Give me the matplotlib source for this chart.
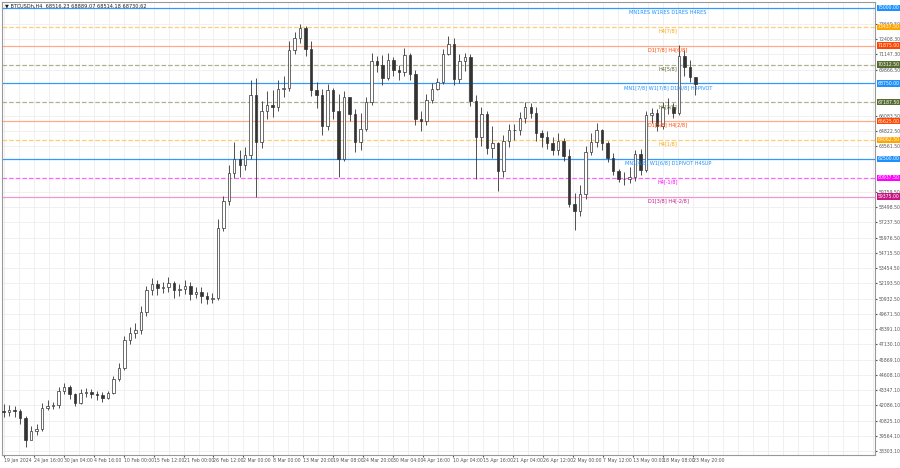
import numpy as np
import matplotlib.pyplot as plt

# daily closes, 19 Jan 2024 .. 24 May 2024
closes = [41500, 41700, 41600, 41000, 39200, 40000, 40100, 41900, 42000, 42100,
          43300, 43600, 43000, 42300, 43100, 43200, 43000, 42900, 42700, 43100,
          44300, 45200, 47500, 48100, 48300, 49800, 51600, 52100, 51800, 51900,
          52200, 51600, 51700, 52000, 51300, 51500, 51100, 50900, 51000, 56800,
          59000, 61300, 62500, 62000, 62800, 67800, 63900, 66500, 67000, 66800,
          68300, 68400, 71500, 72500, 73300, 71600, 68200, 67800, 65200, 68200,
          66500, 62500, 67600, 66200, 63900, 65000, 67200, 70600, 70300, 69200,
          70700, 69900, 69700, 71100, 69500, 65800, 65600, 67400, 68300, 68900,
          71200, 72000, 69100, 70600, 70900, 67300, 64300, 66200, 63400, 63800,
          61500, 64000, 64900, 64900, 65900, 66800, 66300, 64600, 64300, 63800,
          63200, 64000, 62700, 58800, 58200, 59600, 63100, 63900, 64900, 63800,
          62600, 61500, 60800, 60800, 61000, 62900, 61600, 66100, 66300, 65200,
          66800, 66800, 66300, 71000, 70100, 69300, 68730]
highs = [42200, 42100, 42000, 41800, 41200, 40400, 40500, 42300, 42500, 42400,
         43600, 43900, 43800, 43100, 43400, 43500, 43400, 43300, 43200, 43300,
         44500, 45600, 47800, 48600, 48900, 50300, 52000, 52600, 52500, 52300,
         52700, 52400, 52100, 52500, 52300, 51900, 51900, 51500, 51400, 57500,
         59400, 62000, 63900, 63200, 63500, 69000, 69200, 67300, 68100, 68200,
         69000, 69400, 72300, 73000, 73700, 73500, 72300, 68900, 68300, 68700,
         68400, 67900, 68100, 67500, 66600, 66300, 67600, 71300, 71000, 71100,
         71300, 70900, 70300, 71700, 71300, 69900, 66500, 67900, 68800, 69200,
         71600, 72700, 72500, 71200, 71300, 71200, 67800, 66800, 66500, 65200,
         63900, 64500, 65400, 65400, 66400, 67200, 67100, 66800, 64900, 64800,
         64300, 64600, 64200, 63300, 59700, 60300, 63600, 64600, 65500, 65000,
         64000, 63000, 61700, 61400, 61800, 63200, 63300, 66500, 66700, 66600,
         67200, 67500, 67100, 71900, 71500, 70700, 69300]
lows = [41100, 41200, 41100, 40500, 38600, 39300, 39600, 40000, 41700, 41800,
        41900, 43000, 42600, 42000, 42200, 42800, 42700, 42500, 42400, 42600,
        43000, 44100, 45000, 47200, 47700, 48000, 49500, 51200, 51200, 51400,
        51500, 51000, 51100, 51300, 50800, 51000, 50600, 50500, 50600, 50800,
        56500, 58700, 60900, 61000, 61600, 62500, 59300, 63400, 65800, 66000,
        66500, 67600, 68100, 71200, 72100, 71000, 67700, 66700, 64500, 64900,
        65800, 61000, 62300, 65600, 63100, 63200, 64800, 67000, 69700, 68600,
        69000, 69400, 69000, 69400, 69000, 65300, 64800, 65300, 67100, 68200,
        68700, 71100, 68600, 68800, 69800, 66900, 60800, 63600, 62900, 62600,
        59800, 61000, 63500, 64100, 64500, 65500, 65900, 64000, 63500, 63300,
        62800, 62800, 62300, 58500, 56600, 57800, 59200, 62800, 63500, 63200,
        62200, 61200, 60600, 60300, 60500, 60700, 61200, 61400, 65500, 64800,
        65000, 66200, 65900, 66100, 69400, 68900, 67800]
opens = [41600] + closes[:-1]

date_labels = ['19 Jan 2024', '24 Jan 16:00', '30 Jan 04:00', '4 Feb 16:00', '10 Feb 00:00',
               '15 Feb 12:00', '21 Feb 00:00', '26 Feb 12:00', '2 Mar 00:00', '8 Mar 00:00',
               '13 Mar 20:00', '19 Mar 08:00', '24 Mar 20:00', '30 Mar 04:00', '4 Apr 16:00',
               '10 Apr 04:00', '15 Apr 16:00', '21 Apr 04:00', '26 Apr 12:00', '2 May 00:00',
               '7 May 12:00', '13 May 00:00', '18 May 08:00', '23 May 20:00']

price_ticks = [38303.10, 39564.10, 40825.10, 42086.10, 43347.10, 44608.10, 45869.10,
               47130.10, 48391.10, 49671.50, 50932.50, 52193.50, 53454.50, 54715.50,
               55976.50, 57237.50, 58498.50, 59759.50, 63561.50, 64822.50, 66083.50,
               69866.50, 71147.30, 72408.30, 73669.50]

levels = [75000.00, 73437.50, 71875.00, 70312.50, 68750.00, 67187.50,
          65625.00, 64062.50, 62500.00, 60937.50, 59375.00]
level_names = ['MN1RES W1RES D1RES H4RES', 'H4[7/8]', 'D1[7/8] H4[6/8]', 'H4[5/8]',
               'MN1[7/8] W1[7/8] D1[6/8] H4PIVOT', 'H4[3/8]', 'D1[5/8] H4[2/8]', 'H4[1/8]',
               'MN1[6/8] W1[6/8] D1PIVOT H4SUP', 'H4[-1/8]', 'D1[3/8] H4[-2/8]']
level_line = ['#3399ff', '#ffcc77', '#ffaa88', '#b0b090', '#3399ff', '#b0b090',
              '#ffaa88', '#ffcc77', '#3399ff', '#ff66ff', '#ee99cc']
level_box = ['#1e90ff', '#ffa500', '#ff4500', '#556b2f', '#1e90ff', '#556b2f',
             '#ff4500', '#ffa500', '#1e90ff', '#ff00ff', '#c71585']
level_style = ['-', '--', '-', '--', '-', '--', '-', '--', '-', '--', '-']

fig = plt.figure(figsize=(9, 4.68), dpi=100)
ax = fig.add_axes([2 / 900, 13 / 468, 873 / 900, 453 / 468])
ax.set_xlim(-0.3, 158.7)
ax.set_ylim(37972, 75491)

for p in price_ticks:
    ax.axhline(p, color='#eeeeee', lw=0.6, zorder=0)

# terminal puts time labels at even spacing (about 5.46 days apart)
tick_pos = np.arange(len(date_labels)) * 5.46
for xp in np.arange(0, 160, 2.73):
    ax.axvline(xp, color='#eeeeee', lw=0.6, zorder=0)

x = np.arange(len(closes))
o = np.array(opens)
c = np.array(closes)
ax.vlines(x, lows, highs, color='#333333', lw=0.6, zorder=3)
up = c >= o
ax.bar(x[up], (c - o)[up], bottom=o[up], width=0.45, color='white', edgecolor='#333333', lw=0.5, zorder=4)
ax.bar(x[~up], (o - c)[~up], bottom=c[~up], width=0.45, color='#333333', edgecolor='#333333', lw=0.5, zorder=4)

for lv, name, lc, bc, ls in zip(levels, level_names, level_line, level_box, level_style):
    ax.axhline(lv, color=lc, lw=0.9, ls=ls, zorder=2)
    ax.annotate(name, (121, lv), xytext=(0, -3), textcoords='offset points',
                ha='center', va='center', fontsize=3.6, color=bc, zorder=5)
    ax.annotate(f'{lv:.2f}', (1.0, lv), xycoords=('axes fraction', 'data'), xytext=(2, 0),
                textcoords='offset points', ha='left', va='center', fontsize=3.3, color='white',
                bbox=dict(boxstyle='square,pad=0.15', fc=bc, ec='none'), annotation_clip=False)

ax.yaxis.tick_right()
ax.set_yticks(price_ticks)
ax.set_yticklabels([f'{p:.2f}' for p in price_ticks])
ax.set_xticks(tick_pos)
ax.set_xticklabels(date_labels, ha='left')
ax.tick_params(labelsize=3.3, colors='#555555', length=1.5, pad=1)
for sp in ax.spines.values():
    sp.set_color('#999999')
    sp.set_linewidth(0.8)

ax.text(0.004, 0.997, '\u25bc BTCUSDh,H4  68516.23 68889.07 68514.18 68730.62',
        transform=ax.transAxes, fontsize=3.6, va='top', ha='left', color='#222222')

fig.savefig('out.png', dpi=100)
